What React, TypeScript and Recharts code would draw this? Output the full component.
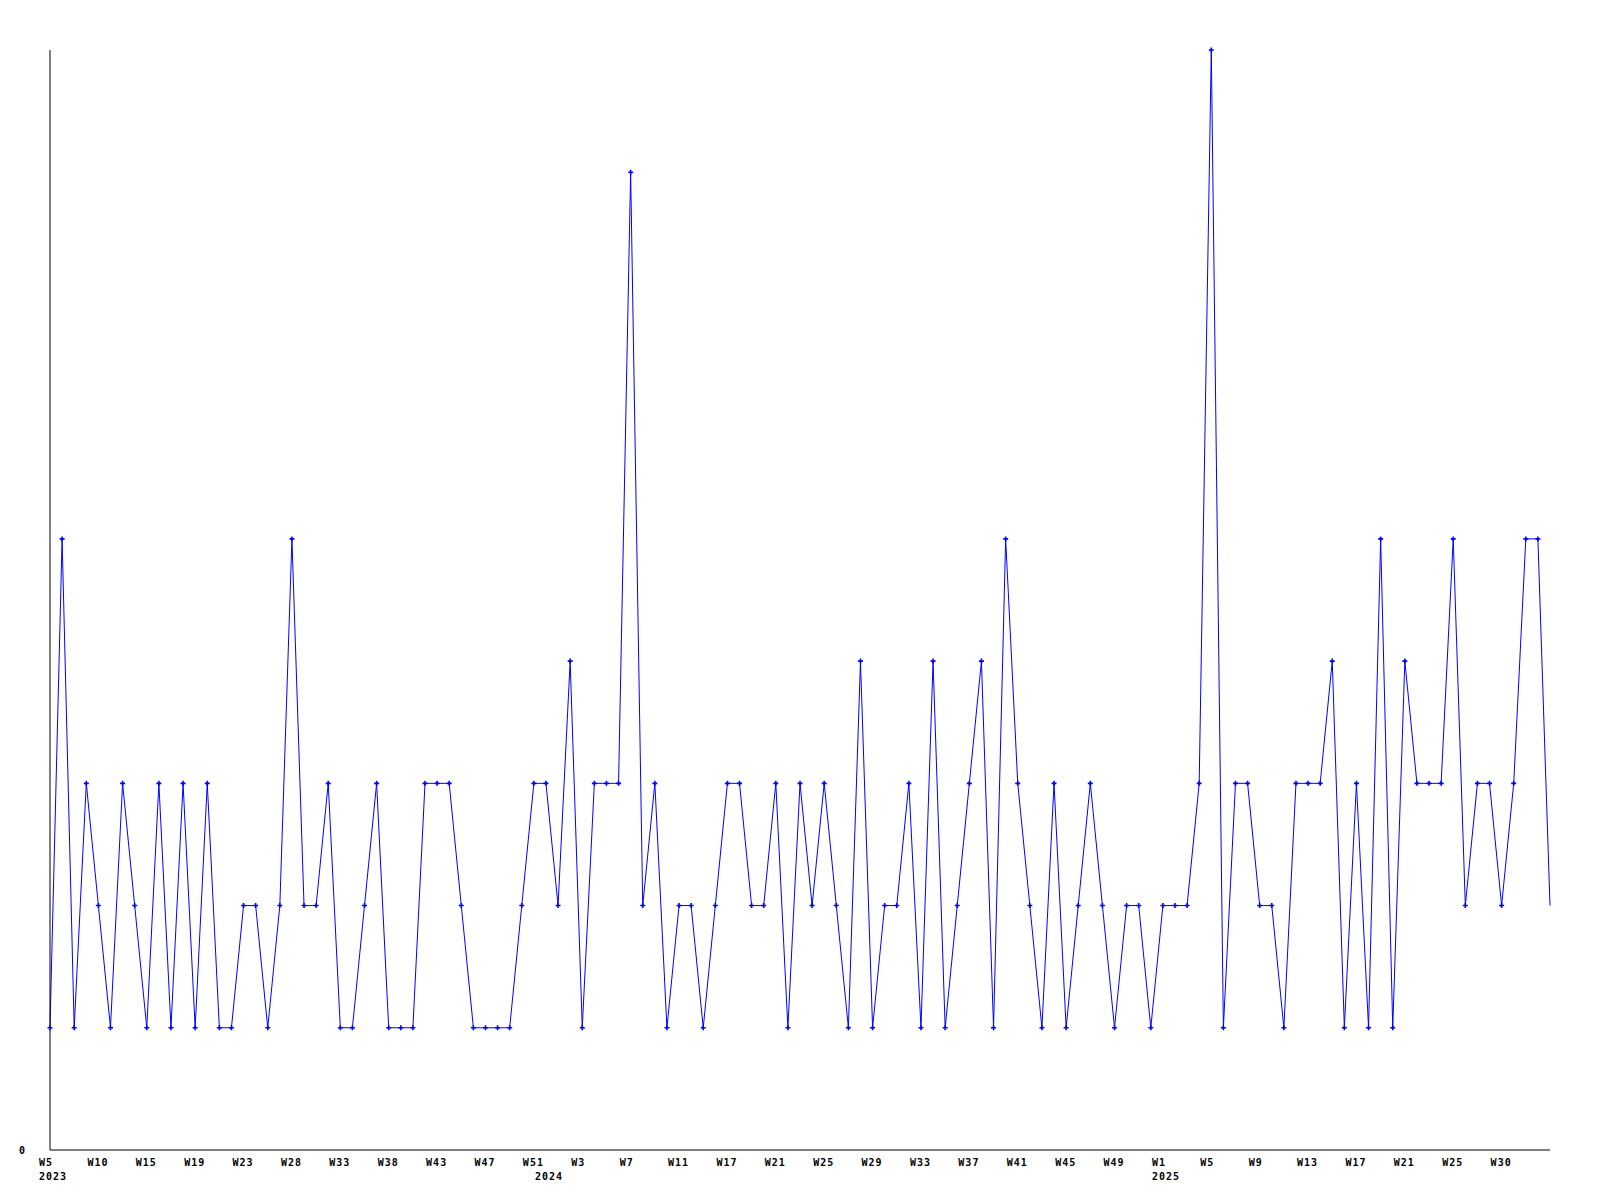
import React from 'react';
import { LineChart, Line, XAxis, YAxis } from 'recharts';

// weekly counts, one per plotted point (2023 W5 .. 2025 W3x)
const counts = [
  1, 5, 1, 3, 2, 1, 3, 2, 1, 3,
  1, 3, 1, 3, 1, 1, 2, 2, 1, 2,
  5, 2, 2, 3, 1, 1, 2, 3, 1, 1,
  1, 3, 3, 3, 2, 1, 1, 1, 1, 2,
  3, 3, 2, 4, 1, 3, 3, 3, 8, 2,
  3, 1, 2, 2, 1, 2, 3, 3, 2, 2,
  3, 1, 3, 2, 3, 2, 1, 4, 1, 2,
  2, 3, 1, 4, 1, 2, 3, 4, 1, 5,
  3, 2, 1, 3, 1, 2, 3, 2, 1, 2,
  2, 1, 2, 2, 2, 3, 9, 1, 3, 3,
  2, 2, 1, 3, 3, 3, 4, 1, 3, 1,
  5, 1, 4, 3, 3, 3, 5, 2, 3, 3,
  2, 3, 5, 5, 2,
];

// a week label on every 4th point
const weekLabels = [
  'W5', 'W10', 'W15', 'W19', 'W23', 'W28', 'W33', 'W38', 'W43', 'W47', 'W51',
  'W3', 'W7', 'W11', 'W17', 'W21', 'W25', 'W29', 'W33', 'W37', 'W41', 'W45', 'W49',
  'W1', 'W5', 'W9', 'W13', 'W17', 'W21', 'W25', 'W30',
];
const weekStep = 4;

const yearLabels = ['2023', '2024', '2025'];
const yearStartIdx = [0, 41, 92];

const yTicks = [0];
const yMax = 9;

const data = counts.map((v, i) => ({ i, count: v }));

const ticks = Array.from(
  new Set([...weekLabels.map((_, k) => k * weekStep), ...yearStartIdx])
).sort((a, b) => a - b);

const FONT = '"DejaVu Sans Mono", monospace';
const BLUE = '#0000ff';

const textStyle = {
  fontFamily: FONT,
  fontSize: 10,
  fontWeight: 'bold' as const,
  letterSpacing: 1,
  fill: '#000',
};

const XTick = (props: any) => {
  const { x, y, payload } = props;
  const i = payload.value as number;
  const wk = i % weekStep === 0 ? weekLabels[i / weekStep] : undefined;
  const yi = yearStartIdx.indexOf(i);
  const yr = yi >= 0 ? yearLabels[yi] : undefined;
  return (
    <g>
      {wk && (
        <text x={x - 11} y={y + 15.5} style={textStyle}>
          {wk}
        </text>
      )}
      {yr && (
        <text x={x - 11} y={y + 29.5} style={textStyle}>
          {yr}
        </text>
      )}
    </g>
  );
};

const YTick = (props: any) => {
  const { y, payload } = props;
  return (
    <text x={26} y={y + 3.5} textAnchor="end" style={textStyle}>
      {payload.value}
    </text>
  );
};

const Marker = (props: any) => {
  const { cx, cy, index } = props;
  if (index === counts.length - 1 || cx == null) return <g key={`d${index}`} />;
  return (
    <path
      key={`d${index}`}
      d={`M${cx - 2.5},${cy} H${cx + 2.5} M${cx},${cy - 2.5} V${cy + 2.5}`}
      fill="none"
      stroke={BLUE}
      strokeWidth={1.6}
    />
  );
};

export default function App() {
  return (
    <div style={{ position: 'absolute', left: 0, top: 0, width: 1600, height: 1200, background: '#fff' }}>
      <LineChart width={1600} height={1200} data={data} margin={{ top: 50, right: 50, bottom: 0, left: 0 }}>
        <XAxis
          dataKey="i"
          type="number"
          domain={[0, counts.length - 1]}
          ticks={ticks}
          interval={0}
          height={50}
          tickLine={false}
          tickSize={0}
          tickMargin={0}
          axisLine={{ stroke: '#000', strokeWidth: 1 }}
          tick={<XTick />}
        />
        <YAxis
          type="number"
          domain={[0, yMax]}
          ticks={yTicks}
          width={50}
          tickLine={false}
          tickSize={0}
          axisLine={{ stroke: '#000', strokeWidth: 1 }}
          tick={<YTick />}
        />
        <Line
          type="linear"
          dataKey="count"
          stroke={BLUE}
          strokeWidth={1}
          dot={Marker}
          activeDot={false}
          isAnimationActive={false}
        />
      </LineChart>
    </div>
  );
}
